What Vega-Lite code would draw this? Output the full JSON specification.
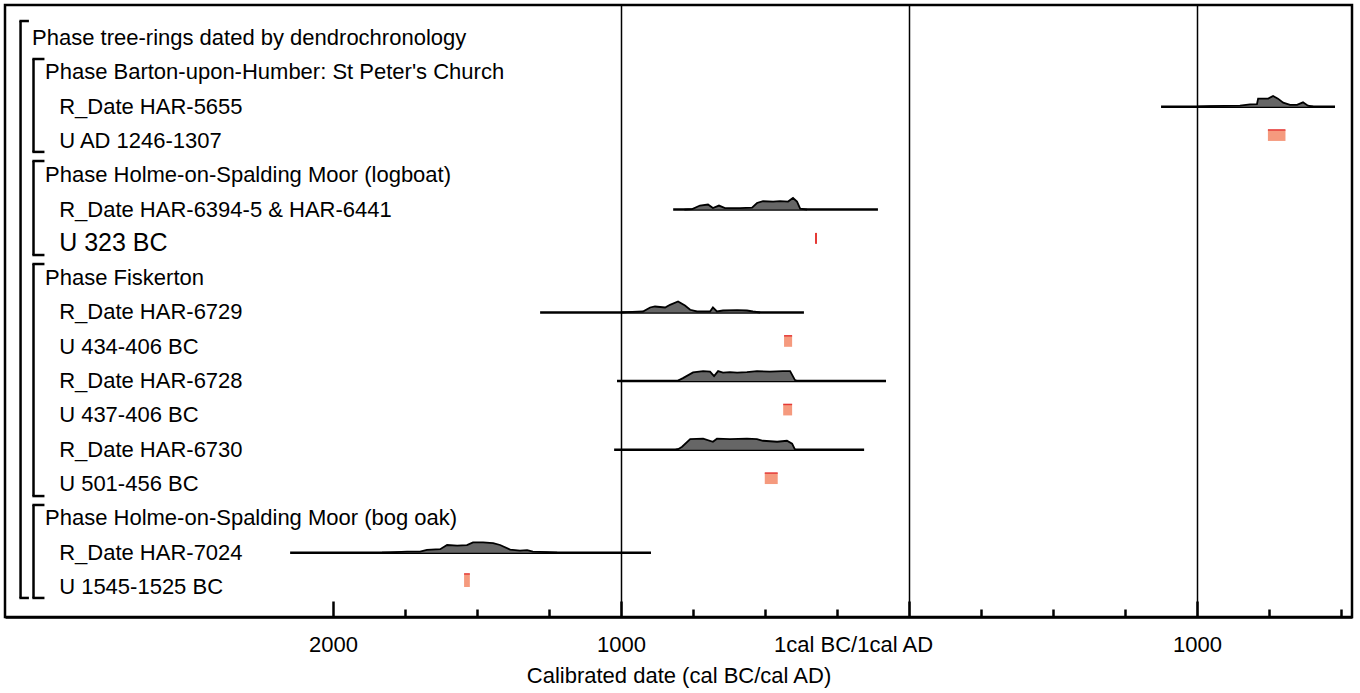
{
  "$schema": "https://vega.github.io/schema/vega-lite/v6.json",
  "width": 1347,
  "height": 612,
  "autosize": {"type": "none"},
  "padding": {"left": 5, "top": 5, "right": 8, "bottom": 76},
  "background": "white",
  "config": {
    "view": {"stroke": "black", "strokeWidth": 2.5},
    "font": "Liberation Sans"
  },
  "resolve": {"axis": {"x": "independent"}},
  "datasets": {
    "labels": [
      {"row": 1, "lev": 0, "label": "Phase tree-rings dated by dendrochronology"},
      {"row": 2, "lev": 1, "label": "Phase Barton-upon-Humber: St Peter's Church"},
      {"row": 3, "lev": 2, "label": "R_Date HAR-5655"},
      {"row": 4, "lev": 2, "label": "U AD 1246-1307"},
      {"row": 5, "lev": 1, "label": "Phase Holme-on-Spalding Moor (logboat)"},
      {"row": 6, "lev": 2, "label": "R_Date HAR-6394-5 & HAR-6441"},
      {"row": 7, "lev": 2, "label": "U 323 BC"},
      {"row": 8, "lev": 1, "label": "Phase Fiskerton"},
      {"row": 9, "lev": 2, "label": "R_Date HAR-6729"},
      {"row": 10, "lev": 2, "label": "U 434-406 BC"},
      {"row": 11, "lev": 2, "label": "R_Date HAR-6728"},
      {"row": 12, "lev": 2, "label": "U 437-406 BC"},
      {"row": 13, "lev": 2, "label": "R_Date HAR-6730"},
      {"row": 14, "lev": 2, "label": "U 501-456 BC"},
      {"row": 15, "lev": 1, "label": "Phase Holme-on-Spalding Moor (bog oak)"},
      {"row": 16, "lev": 2, "label": "R_Date HAR-7024"},
      {"row": 17, "lev": 2, "label": "U 1545-1525 BC"}
    ],
    "brackets": [
      {"lev": 0, "from": 0.505, "to": 17.32},
      {"lev": 1, "from": 1.612, "to": 4.32},
      {"lev": 1, "from": 4.585, "to": 7.325},
      {"lev": 1, "from": 7.587, "to": 14.35},
      {"lev": 1, "from": 14.61, "to": 17.32}
    ],
    "ranges": [
      {"s": "HAR-5655", "row": 3, "from": 875, "to": 1479},
      {"s": "HAR-6394-5 & HAR-6441", "row": 6, "from": -819, "to": -108},
      {"s": "HAR-6729", "row": 9, "from": -1281, "to": -365},
      {"s": "HAR-6728", "row": 11, "from": -1014, "to": -80},
      {"s": "HAR-6730", "row": 13, "from": -1024, "to": -156},
      {"s": "HAR-7024", "row": 16, "from": -2149, "to": -896}
    ],
    "ubox": [
      {"u": "AD 1246-1307", "row": 4, "from": 1246, "to": 1307, "top": 3.68},
      {"u": "323 BC", "row": 7, "from": -323, "to": -323, "top": 6.68},
      {"u": "434-406 BC", "row": 10, "from": -434, "to": -406, "top": 9.68},
      {"u": "437-406 BC", "row": 12, "from": -437, "to": -406, "top": 11.68},
      {"u": "501-456 BC", "row": 14, "from": -501, "to": -456, "top": 13.68},
      {"u": "1545-1525 BC", "row": 17, "from": -1545, "to": -1525, "top": 16.62}
    ],
    "curves": [
      {"s": "HAR-5655", "row": 3, "year": 1000, "top": 3},
      {"s": "HAR-5655", "row": 3, "year": 1045, "top": 2.985},
      {"s": "HAR-5655", "row": 3, "year": 1149, "top": 2.971},
      {"s": "HAR-5655", "row": 3, "year": 1184, "top": 2.933},
      {"s": "HAR-5655", "row": 3, "year": 1208, "top": 2.927},
      {"s": "HAR-5655", "row": 3, "year": 1212, "top": 2.767},
      {"s": "HAR-5655", "row": 3, "year": 1247, "top": 2.767},
      {"s": "HAR-5655", "row": 3, "year": 1264, "top": 2.688},
      {"s": "HAR-5655", "row": 3, "year": 1281, "top": 2.767},
      {"s": "HAR-5655", "row": 3, "year": 1299, "top": 2.883},
      {"s": "HAR-5655", "row": 3, "year": 1323, "top": 2.95},
      {"s": "HAR-5655", "row": 3, "year": 1347, "top": 2.95},
      {"s": "HAR-5655", "row": 3, "year": 1368, "top": 2.875},
      {"s": "HAR-5655", "row": 3, "year": 1385, "top": 2.971},
      {"s": "HAR-5655", "row": 3, "year": 1403, "top": 3},

      {"s": "HAR-6394", "row": 6, "year": -780, "top": 6},
      {"s": "HAR-6394", "row": 6, "year": -753, "top": 5.985},
      {"s": "HAR-6394", "row": 6, "year": -726, "top": 5.883},
      {"s": "HAR-6394", "row": 6, "year": -698, "top": 5.854},
      {"s": "HAR-6394", "row": 6, "year": -681, "top": 5.956},
      {"s": "HAR-6394", "row": 6, "year": -660, "top": 5.883},
      {"s": "HAR-6394", "row": 6, "year": -639, "top": 5.956},
      {"s": "HAR-6394", "row": 6, "year": -587, "top": 5.956},
      {"s": "HAR-6394", "row": 6, "year": -545, "top": 5.942},
      {"s": "HAR-6394", "row": 6, "year": -528, "top": 5.808},
      {"s": "HAR-6394", "row": 6, "year": -507, "top": 5.758},
      {"s": "HAR-6394", "row": 6, "year": -472, "top": 5.767},
      {"s": "HAR-6394", "row": 6, "year": -448, "top": 5.752},
      {"s": "HAR-6394", "row": 6, "year": -420, "top": 5.767},
      {"s": "HAR-6394", "row": 6, "year": -403, "top": 5.662},
      {"s": "HAR-6394", "row": 6, "year": -389, "top": 5.767},
      {"s": "HAR-6394", "row": 6, "year": -378, "top": 5.971},
      {"s": "HAR-6394", "row": 6, "year": -354, "top": 6},

      {"s": "HAR-6729", "row": 9, "year": -1000, "top": 9},
      {"s": "HAR-6729", "row": 9, "year": -979, "top": 8.991},
      {"s": "HAR-6729", "row": 9, "year": -924, "top": 8.971},
      {"s": "HAR-6729", "row": 9, "year": -899, "top": 8.854},
      {"s": "HAR-6729", "row": 9, "year": -882, "top": 8.825},
      {"s": "HAR-6729", "row": 9, "year": -847, "top": 8.854},
      {"s": "HAR-6729", "row": 9, "year": -830, "top": 8.776},
      {"s": "HAR-6729", "row": 9, "year": -802, "top": 8.679},
      {"s": "HAR-6729", "row": 9, "year": -778, "top": 8.796},
      {"s": "HAR-6729", "row": 9, "year": -760, "top": 8.921},
      {"s": "HAR-6729", "row": 9, "year": -736, "top": 8.971},
      {"s": "HAR-6729", "row": 9, "year": -691, "top": 8.971},
      {"s": "HAR-6729", "row": 9, "year": -681, "top": 8.854},
      {"s": "HAR-6729", "row": 9, "year": -667, "top": 8.971},
      {"s": "HAR-6729", "row": 9, "year": -646, "top": 8.942},
      {"s": "HAR-6729", "row": 9, "year": -597, "top": 8.933},
      {"s": "HAR-6729", "row": 9, "year": -563, "top": 8.942},
      {"s": "HAR-6729", "row": 9, "year": -542, "top": 8.971},
      {"s": "HAR-6729", "row": 9, "year": -517, "top": 9},

      {"s": "HAR-6728", "row": 11, "year": -810, "top": 11},
      {"s": "HAR-6728", "row": 11, "year": -802, "top": 10.985},
      {"s": "HAR-6728", "row": 11, "year": -785, "top": 10.913},
      {"s": "HAR-6728", "row": 11, "year": -750, "top": 10.746},
      {"s": "HAR-6728", "row": 11, "year": -715, "top": 10.709},
      {"s": "HAR-6728", "row": 11, "year": -691, "top": 10.723},
      {"s": "HAR-6728", "row": 11, "year": -677, "top": 10.854},
      {"s": "HAR-6728", "row": 11, "year": -663, "top": 10.709},
      {"s": "HAR-6728", "row": 11, "year": -646, "top": 10.752},
      {"s": "HAR-6728", "row": 11, "year": -622, "top": 10.738},
      {"s": "HAR-6728", "row": 11, "year": -597, "top": 10.752},
      {"s": "HAR-6728", "row": 11, "year": -563, "top": 10.738},
      {"s": "HAR-6728", "row": 11, "year": -528, "top": 10.709},
      {"s": "HAR-6728", "row": 11, "year": -483, "top": 10.723},
      {"s": "HAR-6728", "row": 11, "year": -438, "top": 10.709},
      {"s": "HAR-6728", "row": 11, "year": -413, "top": 10.709},
      {"s": "HAR-6728", "row": 11, "year": -396, "top": 10.971},
      {"s": "HAR-6728", "row": 11, "year": -389, "top": 11},

      {"s": "HAR-6730", "row": 13, "year": -810, "top": 13},
      {"s": "HAR-6730", "row": 13, "year": -802, "top": 12.985},
      {"s": "HAR-6730", "row": 13, "year": -788, "top": 12.913},
      {"s": "HAR-6730", "row": 13, "year": -760, "top": 12.691},
      {"s": "HAR-6730", "row": 13, "year": -715, "top": 12.679},
      {"s": "HAR-6730", "row": 13, "year": -681, "top": 12.767},
      {"s": "HAR-6730", "row": 13, "year": -667, "top": 12.679},
      {"s": "HAR-6730", "row": 13, "year": -622, "top": 12.691},
      {"s": "HAR-6730", "row": 13, "year": -563, "top": 12.679},
      {"s": "HAR-6730", "row": 13, "year": -528, "top": 12.691},
      {"s": "HAR-6730", "row": 13, "year": -507, "top": 12.738},
      {"s": "HAR-6730", "row": 13, "year": -458, "top": 12.767},
      {"s": "HAR-6730", "row": 13, "year": -424, "top": 12.738},
      {"s": "HAR-6730", "row": 13, "year": -406, "top": 12.825},
      {"s": "HAR-6730", "row": 13, "year": -396, "top": 13},

      {"s": "HAR-7024", "row": 16, "year": -1830, "top": 16},
      {"s": "HAR-7024", "row": 16, "year": -1802, "top": 15.991},
      {"s": "HAR-7024", "row": 16, "year": -1743, "top": 15.971},
      {"s": "HAR-7024", "row": 16, "year": -1698, "top": 15.971},
      {"s": "HAR-7024", "row": 16, "year": -1674, "top": 15.921},
      {"s": "HAR-7024", "row": 16, "year": -1628, "top": 15.898},
      {"s": "HAR-7024", "row": 16, "year": -1604, "top": 15.776},
      {"s": "HAR-7024", "row": 16, "year": -1569, "top": 15.796},
      {"s": "HAR-7024", "row": 16, "year": -1535, "top": 15.781},
      {"s": "HAR-7024", "row": 16, "year": -1514, "top": 15.7},
      {"s": "HAR-7024", "row": 16, "year": -1479, "top": 15.7},
      {"s": "HAR-7024", "row": 16, "year": -1444, "top": 15.723},
      {"s": "HAR-7024", "row": 16, "year": -1420, "top": 15.776},
      {"s": "HAR-7024", "row": 16, "year": -1385, "top": 15.913},
      {"s": "HAR-7024", "row": 16, "year": -1351, "top": 15.942},
      {"s": "HAR-7024", "row": 16, "year": -1326, "top": 15.927},
      {"s": "HAR-7024", "row": 16, "year": -1306, "top": 15.971},
      {"s": "HAR-7024", "row": 16, "year": -1257, "top": 15.985},
      {"s": "HAR-7024", "row": 16, "year": -1222, "top": 16}
    ]
  },
  "layer": [
    {
      "data": {"name": "ranges"},
      "mark": {"type": "rule", "color": "black", "strokeWidth": 2.5},
      "encoding": {
        "x": {
          "field": "from", "type": "quantitative",
          "scale": {"domain": [-3139, 1538], "nice": false, "zero": false},
          "axis": {
            "orient": "bottom",
            "values": [-2000, -1000, 0, 1000],
            "labelExpr": "datum.value === 0 ? '' : '' + abs(datum.value)",
            "tickSize": -16,
            "tickWidth": 2.5,
            "tickColor": "black",
            "domainColor": "black",
            "domainWidth": 2.5,
            "grid": false,
            "labelFont": "Liberation Sans",
            "labelFontSize": 22,
            "labelColor": "black",
            "labelPadding": 33,
            "labelOverlap": false,
            "labelFlush": false,
            "title": "Calibrated date (cal BC/cal AD)",
            "titleFont": "Liberation Sans",
            "titleFontSize": 22,
            "titleFontWeight": "normal",
            "titleColor": "black",
            "titlePadding": 10
          }
        },
        "x2": {"field": "to"},
        "y": {"field": "row", "type": "quantitative", "scale": {"domain": [0.038, 17.875], "reverse": true, "nice": false, "zero": false}, "axis": null}
      }
    },
    {
      "data": {"name": "curves"},
      "mark": {"type": "area", "color": "#666666", "opacity": 1, "line": {"color": "black", "strokeWidth": 1.8}},
      "encoding": {
        "x": {
          "field": "year", "type": "quantitative",
          "scale": {"domain": [-3139, 1538], "nice": false, "zero": false},
          "axis": {
            "orient": "bottom",
            "values": [-1750, -1500, -1250, -750, -500, -250, 250, 500, 750, 1250, 1500],
            "labels": false,
            "domain": false,
            "title": null,
            "tickSize": -8,
            "tickWidth": 2.5,
            "tickColor": "black",
            "grid": false
          }
        },
        "y": {"field": "top", "type": "quantitative", "scale": {"domain": [0.038, 17.875], "reverse": true, "nice": false, "zero": false}, "axis": null},
        "y2": {"field": "row"},
        "detail": {"field": "s"}
      }
    },
    {
      "data": {"name": "ubox"},
      "transform": [{"filter": "datum.from !== datum.to"}],
      "mark": {"type": "rect", "color": "#F59A7E", "opacity": 1},
      "encoding": {
        "x": {
          "field": "from", "type": "quantitative",
          "scale": {"domain": [-3139, 1538], "nice": false, "zero": false},
          "axis": {
            "orient": "bottom",
            "values": [-1000, 0, 1000],
            "labelExpr": "datum.value === 0 ? '1cal BC/1cal AD' : ''",
            "labelFont": "Liberation Sans",
            "labelFontSize": 22,
            "labelColor": "black",
            "labelPadding": 17,
            "labelOffset": -56,
            "labelOverlap": false,
            "labelFlush": false,
            "domain": false,
            "ticks": false,
            "title": null,
            "grid": true,
            "gridColor": "black",
            "gridWidth": 1.5,
            "gridOpacity": 1
          }
        },
        "x2": {"field": "to"},
        "y": {"field": "top", "type": "quantitative", "scale": {"domain": [0.038, 17.875], "reverse": true, "nice": false, "zero": false}, "axis": null},
        "y2": {"field": "row"}
      }
    },
    {
      "data": {"name": "ubox"},
      "transform": [{"filter": "datum.from !== datum.to"}],
      "mark": {"type": "rule", "color": "#E53935", "strokeWidth": 1.5},
      "encoding": {
        "x": {"field": "from", "type": "quantitative", "scale": {"domain": [-3139, 1538], "nice": false, "zero": false}, "axis": null},
        "x2": {"field": "to"},
        "y": {"field": "top", "type": "quantitative", "scale": {"domain": [0.038, 17.875], "reverse": true, "nice": false, "zero": false}, "axis": null}
      }
    },
    {
      "data": {"name": "ubox"},
      "transform": [{"filter": "datum.from === datum.to"}],
      "mark": {"type": "rule", "color": "#E53935", "strokeWidth": 2},
      "encoding": {
        "x": {"field": "from", "type": "quantitative", "scale": {"domain": [-3139, 1538], "nice": false, "zero": false}, "axis": null},
        "y": {"field": "top", "type": "quantitative", "scale": {"domain": [0.038, 17.875], "reverse": true, "nice": false, "zero": false}, "axis": null},
        "y2": {"field": "row"}
      }
    },
    {
      "data": {"name": "brackets"},
      "transform": [{"filter": "datum.lev === 0"}],
      "mark": {"type": "rule", "color": "black", "strokeWidth": 2.5},
      "encoding": {
        "x": {"datum": -3085, "type": "quantitative", "scale": {"domain": [-3139, 1538], "nice": false, "zero": false}, "axis": null},
        "y": {"field": "from", "type": "quantitative", "scale": {"domain": [0.038, 17.875], "reverse": true, "nice": false, "zero": false}, "axis": null},
        "y2": {"field": "to"}
      }
    },
    {
      "data": {"name": "brackets"},
      "transform": [{"filter": "datum.lev === 0"}],
      "mark": {"type": "rule", "color": "black", "strokeWidth": 2.5},
      "encoding": {
        "x": {"datum": -3089, "type": "quantitative", "scale": {"domain": [-3139, 1538], "nice": false, "zero": false}, "axis": null},
        "x2": {"datum": -3056},
        "y": {"field": "from", "type": "quantitative", "scale": {"domain": [0.038, 17.875], "reverse": true, "nice": false, "zero": false}, "axis": null}
      }
    },
    {
      "data": {"name": "brackets"},
      "transform": [{"filter": "datum.lev === 0"}],
      "mark": {"type": "rule", "color": "black", "strokeWidth": 2.5},
      "encoding": {
        "x": {"datum": -3089, "type": "quantitative", "scale": {"domain": [-3139, 1538], "nice": false, "zero": false}, "axis": null},
        "x2": {"datum": -3056},
        "y": {"field": "to", "type": "quantitative", "scale": {"domain": [0.038, 17.875], "reverse": true, "nice": false, "zero": false}, "axis": null}
      }
    },
    {
      "data": {"name": "brackets"},
      "transform": [{"filter": "datum.lev === 1"}],
      "mark": {"type": "rule", "color": "black", "strokeWidth": 2.5},
      "encoding": {
        "x": {"datum": -3040, "type": "quantitative", "scale": {"domain": [-3139, 1538], "nice": false, "zero": false}, "axis": null},
        "y": {"field": "from", "type": "quantitative", "scale": {"domain": [0.038, 17.875], "reverse": true, "nice": false, "zero": false}, "axis": null},
        "y2": {"field": "to"}
      }
    },
    {
      "data": {"name": "brackets"},
      "transform": [{"filter": "datum.lev === 1"}],
      "mark": {"type": "rule", "color": "black", "strokeWidth": 2.5},
      "encoding": {
        "x": {"datum": -3044, "type": "quantitative", "scale": {"domain": [-3139, 1538], "nice": false, "zero": false}, "axis": null},
        "x2": {"datum": -3002},
        "y": {"field": "from", "type": "quantitative", "scale": {"domain": [0.038, 17.875], "reverse": true, "nice": false, "zero": false}, "axis": null}
      }
    },
    {
      "data": {"name": "brackets"},
      "transform": [{"filter": "datum.lev === 1"}],
      "mark": {"type": "rule", "color": "black", "strokeWidth": 2.5},
      "encoding": {
        "x": {"datum": -3044, "type": "quantitative", "scale": {"domain": [-3139, 1538], "nice": false, "zero": false}, "axis": null},
        "x2": {"datum": -3002},
        "y": {"field": "to", "type": "quantitative", "scale": {"domain": [0.038, 17.875], "reverse": true, "nice": false, "zero": false}, "axis": null}
      }
    },
    {
      "data": {"name": "labels"},
      "transform": [{"filter": "datum.lev === 0"}],
      "mark": {"type": "text", "align": "left", "baseline": "alphabetic", "dy": 7, "font": "Liberation Sans", "fontSize": 22, "color": "black"},
      "encoding": {
        "x": {"datum": -3045, "type": "quantitative", "scale": {"domain": [-3139, 1538], "nice": false, "zero": false}, "axis": null},
        "y": {"field": "row", "type": "quantitative", "scale": {"domain": [0.038, 17.875], "reverse": true, "nice": false, "zero": false}, "axis": null},
        "text": {"field": "label"}
      }
    },
    {
      "data": {"name": "labels"},
      "transform": [{"filter": "datum.lev === 1"}],
      "mark": {"type": "text", "align": "left", "baseline": "alphabetic", "dy": 7, "font": "Liberation Sans", "fontSize": 22, "color": "black"},
      "encoding": {
        "x": {"datum": -3000, "type": "quantitative", "scale": {"domain": [-3139, 1538], "nice": false, "zero": false}, "axis": null},
        "y": {"field": "row", "type": "quantitative", "scale": {"domain": [0.038, 17.875], "reverse": true, "nice": false, "zero": false}, "axis": null},
        "text": {"field": "label"}
      }
    },
    {
      "data": {"name": "labels"},
      "transform": [{"filter": "datum.lev === 2"}],
      "mark": {"type": "text", "align": "left", "baseline": "alphabetic", "dy": 7, "font": "Liberation Sans", "color": "black"},
      "encoding": {
        "x": {"datum": -2951, "type": "quantitative", "scale": {"domain": [-3139, 1538], "nice": false, "zero": false}, "axis": null},
        "y": {"field": "row", "type": "quantitative", "scale": {"domain": [0.038, 17.875], "reverse": true, "nice": false, "zero": false}, "axis": null},
        "text": {"field": "label"},
        "size": {"condition": {"test": "datum.label === 'U 323 BC'", "value": 25}, "value": 22}
      }
    }
  ]
}
